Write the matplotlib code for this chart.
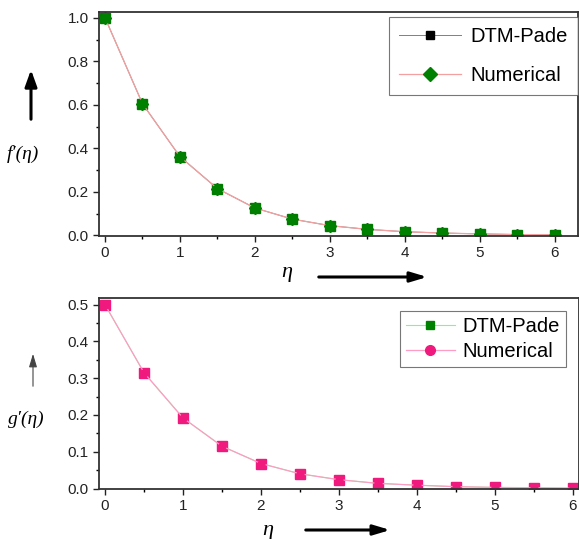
import matplotlib
matplotlib.use("Agg")
import matplotlib.pyplot as plt
from matplotlib.lines import Line2D
from matplotlib.ticker import MultipleLocator
from matplotlib.patches import FancyArrowPatch

eta = [0, 0.5, 1, 1.5, 2, 2.5, 3, 3.5, 4, 4.5, 5, 5.5, 6]
f_dtm = [1.0, 0.605, 0.362, 0.215, 0.126, 0.075, 0.045, 0.028, 0.017, 0.011, 0.007, 0.004, 0.003]
f_num = [1.0, 0.605, 0.362, 0.215, 0.126, 0.075, 0.045, 0.028, 0.017, 0.011, 0.007, 0.004, 0.003]
g_dtm = [0.5, 0.315, 0.192, 0.115, 0.068, 0.040, 0.024, 0.014, 0.009, 0.005, 0.003, 0.002, 0.001]
g_num = [0.5, 0.315, 0.192, 0.115, 0.068, 0.040, 0.024, 0.014, 0.009, 0.005, 0.003, 0.002, 0.001]
x_ticks = [0, 1, 2, 3, 4, 5, 6]
f_ticks = [0.0, 0.2, 0.4, 0.6, 0.8, 1.0]
g_ticks = [0.0, 0.1, 0.2, 0.3, 0.4, 0.5]
series = ["DTM-Pade", "Numerical"]

plt.rcParams['font.family'] = ['Liberation Sans', 'DejaVu Sans']
fig = plt.figure(figsize=(5.79, 5.39), dpi=100)

def style(ax):
    for s in ax.spines.values():
        s.set_linewidth(1.3)
        s.set_color('#333333')
    ax.tick_params(which='major', direction='out', length=4, width=1, labelsize=11, colors='#222222')
    ax.tick_params(which='minor', direction='out', length=2.5, width=1)
    ax.tick_params(top=False, right=False, which='both')
    ax.xaxis.set_minor_locator(MultipleLocator(0.5))

# top
ax1 = fig.add_axes([0.171, 0.562, 0.827, 0.416])
ax1.plot(eta, f_dtm, color='gray', lw=0.7, marker='s', ms=6.5, mfc='#007a00', mec='#007a00')
ax1.plot(eta, f_num, color='#f4a0a0', lw=0.9, marker='D', ms=6.5, mfc='#008000', mec='#008000')
ax1.set_xlim(-0.08, 6.31)
ax1.set_ylim(-0.003, 1.027)
ax1.set_xticks(x_ticks)
ax1.set_yticks(f_ticks)
ax1.set_xticklabels([str(v) for v in x_ticks])
ax1.set_yticklabels([f"{v:.1f}" for v in f_ticks])
ax1.yaxis.set_minor_locator(MultipleLocator(0.1))
style(ax1)
h1 = [Line2D([], [], color='gray', lw=0.7, marker='s', ms=6, mfc='black', mec='black'),
      Line2D([], [], color='#f4a0a0', lw=0.9, marker='D', ms=7, mfc='#008000', mec='#008000')]
leg1 = ax1.legend(h1, series, loc='upper right', bbox_to_anchor=(1.0, 0.978), fontsize=14.5,
                  frameon=True, fancybox=False, edgecolor='#555555', handlelength=3.1,
                  borderpad=0.5, labelspacing=1.0, handletextpad=0.45, borderaxespad=0)
leg1.get_frame().set_linewidth(0.8)

# bottom
ax2 = fig.add_axes([0.171, 0.093, 0.829, 0.354])
ax2.plot(eta, g_dtm, color='#90ee90', lw=0.7, marker='s', ms=6.5, mfc='#f0197d', mec='#f0197d')
ax2.plot(eta, g_num, color='#ff9cc4', lw=0.9, marker='o', ms=5, mfc='#f0197d', mec='#f0197d')
ax2.set_xlim(-0.077, 6.08)
ax2.set_ylim(-0.001, 0.518)
ax2.set_xticks(x_ticks)
ax2.set_yticks(g_ticks)
ax2.set_xticklabels([str(v) for v in x_ticks])
ax2.set_yticklabels([f"{v:.1f}" for v in g_ticks])
ax2.yaxis.set_minor_locator(MultipleLocator(0.05))
style(ax2)
h2 = [Line2D([], [], color='#90ee90', lw=0.8, marker='s', ms=6, mfc='#008000', mec='#008000'),
      Line2D([], [], color='#ff9cc4', lw=0.9, marker='o', ms=7, mfc='#f0197d', mec='#f0197d')]
leg2 = ax2.legend(h2, series, loc='upper right', bbox_to_anchor=(0.973, 0.932), fontsize=14.5,
                  frameon=True, fancybox=False, edgecolor='#555555', handlelength=2.4,
                  borderpad=0.3, labelspacing=0.3, handletextpad=0.4, borderaxespad=0)
leg2.get_frame().set_linewidth(0.8)

# axis labels and arrows (figure pixel coords -> fraction)
W, H = 579, 539
def fx(px): return px / W
def fy(py): return 1 - py / H

serif = ['Liberation Serif', 'DejaVu Serif']
fig.text(fx(23), fy(154), "f\u2032(\u03b7)", ha='center', va='center', fontsize=14,
         fontfamily=serif, fontstyle='italic')
fig.text(fx(26), fy(419), "g\u2032(\u03b7)", ha='center', va='center', fontsize=14,
         fontfamily=serif, fontstyle='italic')
fig.text(fx(287), fy(273), "\u03b7", ha='center', va='center', fontsize=16,
         fontfamily=serif, fontstyle='italic')
fig.text(fx(268), fy(530), "\u03b7", ha='center', va='center', fontsize=16,
         fontfamily=serif, fontstyle='italic')

fig.add_artist(FancyArrowPatch((fx(31), fy(122)), (fx(31), fy(67)),
               transform=fig.transFigure, arrowstyle='-|>,head_length=0.5,head_width=0.18',
               mutation_scale=20, lw=2.2, color='black'))
fig.add_artist(FancyArrowPatch((fx(33), fy(389)), (fx(33), fy(351)),
               transform=fig.transFigure, arrowstyle='-|>,head_length=0.4,head_width=0.12',
               mutation_scale=20, lw=0.8, color='#444444'))
fig.add_artist(FancyArrowPatch((fx(316), fy(277)), (fx(430), fy(277)),
               transform=fig.transFigure, arrowstyle='-|>,head_length=0.5,head_width=0.15',
               mutation_scale=20, lw=2.2, color='black'))
fig.add_artist(FancyArrowPatch((fx(303), fy(530)), (fx(393), fy(530)),
               transform=fig.transFigure, arrowstyle='-|>,head_length=0.5,head_width=0.15',
               mutation_scale=20, lw=2.2, color='black'))

fig.savefig("out.png", dpi=100)
